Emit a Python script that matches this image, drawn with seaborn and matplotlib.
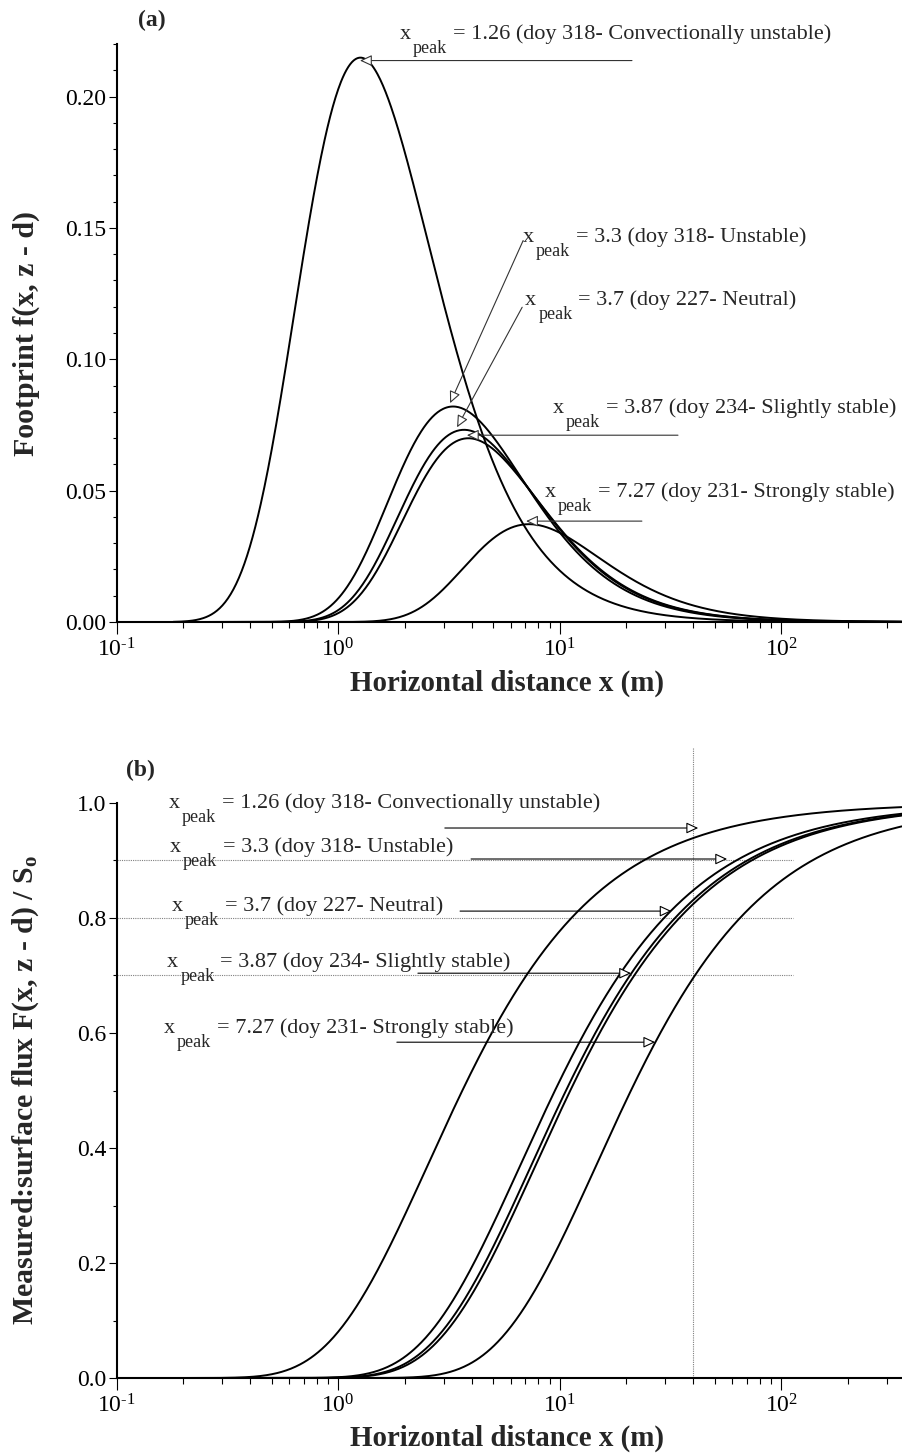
import numpy as np
import pandas as pd
import matplotlib
matplotlib.use("Agg")
import matplotlib.pyplot as plt
import matplotlib.ticker as mticker
from matplotlib.transforms import offset_copy
import seaborn as sns

x_peak = [1.26, 3.3, 3.7, 3.87, 7.27]
doy = [318, 318, 227, 234, 231]
stability = ["Convectionally unstable", "Unstable", "Neutral",
             "Slightly stable", "Strongly stable"]
x_ticks = [0.1, 1, 10, 100]
ytop_ticks = [0.00, 0.05, 0.10, 0.15, 0.20]
ybot_ticks = [0.0, 0.2, 0.4, 0.6, 0.8, 1.0]
ref_levels = [0.9, 0.8, 0.7]
ref_distance = 40

# analytic footprint model (Schuepp-type): f = 2 xp / x^2 exp(-2 xp / x),
# cumulative F = exp(-2 xp / x), defined by the labelled peak locations
x_grid = np.logspace(np.log10(0.18), np.log10(350), 800)
rows = []
for xp, d, s in zip(x_peak, doy, stability):
    f = 2 * xp / x_grid**2 * np.exp(-2 * xp / x_grid)
    F = np.exp(-2 * xp / x_grid)
    rows.append(pd.DataFrame({"x": x_grid, "f": f, "F": F, "case": f"{xp}"}))
df = pd.concat(rows, ignore_index=True)

# ---------------- style ----------------
sns.set_theme(style="ticks")
plt.rcParams["font.family"] = ["Liberation Serif", "DejaVu Serif"]
plt.rcParams["mathtext.fontset"] = "custom"
plt.rcParams["mathtext.rm"] = "Liberation Serif"
plt.rcParams["mathtext.it"] = "Liberation Serif:italic"
plt.rcParams["mathtext.bf"] = "Liberation Serif:bold"
plt.rcParams["mathtext.default"] = "regular"
plt.rcParams["axes.unicode_minus"] = False

fig = plt.figure(figsize=(9.03, 14.56), dpi=100)
ax1 = fig.add_axes([0.12924, 0.57280, 0.86932, 0.39698])
ax2 = fig.add_axes([0.12924, 0.05357, 0.86932, 0.39492])

pal = {f"{xp}": "black" for xp in x_peak}
sns.lineplot(data=df, x="x", y="f", hue="case", palette=pal, legend=False,
             estimator=None, lw=1.4, ax=ax1)
sns.lineplot(data=df, x="x", y="F", hue="case", palette=pal, legend=False,
             estimator=None, lw=1.4, ax=ax2)


def log_label(v, pos):
    e = int(round(np.log10(v)))
    return r"$10^{\text{%d}}$" % e


for ax in (ax1, ax2):
    ax.set_xscale("log")
    ax.set_xlim(0.1, 350)
    ax.xaxis.set_major_locator(mticker.FixedLocator(x_ticks))
    ax.xaxis.set_major_formatter(mticker.FuncFormatter(log_label))
    ax.xaxis.set_minor_locator(mticker.LogLocator(base=10, subs=np.arange(2, 10)))
    ax.xaxis.set_minor_formatter(mticker.NullFormatter())
    for side in ("top", "right"):
        ax.spines[side].set_visible(False)
    for side in ("left", "bottom"):
        ax.spines[side].set_linewidth(1.5)
        ax.spines[side].set_color("black")
    ax.tick_params(axis="x", which="major", length=8.6, width=0.8, pad=3,
                   labelsize=17, colors="black", direction="out")
    ax.tick_params(axis="x", which="minor", length=4.3, width=0.8,
                   colors="black", direction="out")
    ax.tick_params(axis="y", which="major", length=5.8, width=0.8, pad=1.5,
                   labelsize=17, colors="black", direction="out")
    ax.tick_params(axis="y", which="minor", length=2.9, width=0.8,
                   colors="black", direction="out")
    ax.set_xlabel("Horizontal distance x (m)", fontsize=20.8, fontweight="bold")
    ax.xaxis.set_label_coords(0.497, -0.1055)
    ax.xaxis.label.set_va("center")
    ax.grid(False)
    ax.set_facecolor("white")

ax1.set_ylim(0, 0.22)
ax1.yaxis.set_major_locator(mticker.FixedLocator(ytop_ticks))
ax1.yaxis.set_major_formatter(mticker.FormatStrFormatter("%.2f"))
ax1.yaxis.set_minor_locator(mticker.MultipleLocator(0.01))
ax1.set_ylabel("Footprint f(x, z - d)", fontsize=21.5, fontweight="bold")
ax1.yaxis.set_label_coords(-0.1155, 0.5)
ax1.yaxis.label.set_va("center")

ax2.set_ylim(0, 1.0)
ax2.yaxis.set_major_locator(mticker.FixedLocator(ybot_ticks))
ax2.yaxis.set_major_formatter(mticker.FormatStrFormatter("%.1f"))
ax2.yaxis.set_minor_locator(mticker.MultipleLocator(0.1))
ax2.set_ylabel("Measured:surface flux F(x, z - d) / S$_\\mathbf{o}$",
               fontsize=21.5, fontweight="bold")
ax2.yaxis.set_label_coords(-0.1155, 0.5)
ax2.yaxis.label.set_va("center")

# reference lines in panel (b)
ax2.hlines(ref_levels, 0.1, 113, colors="#808080", linestyles=(0, (1, 1)),
           lw=0.8, zorder=1)
ax2.vlines(ref_distance, 0, 1.096, colors="#808080", linestyles=(0, (1, 1)),
           lw=0.8, clip_on=False, zorder=1)

# ---------------- annotations ----------------
def label(ax, x, y, txt):
    ax.text(x, y, "x", fontsize=16, ha="left", va="baseline",
            transform=ax.transData, clip_on=False)
    ax.text(x, y, "peak", fontsize=13, ha="left", va="baseline",
            transform=offset_copy(ax.transData, fig=fig, x=13, y=-14, units="dots"),
            clip_on=False)
    ax.text(x, y, txt, fontsize=16, ha="left", va="baseline",
            transform=offset_copy(ax.transData, fig=fig, x=53, y=0, units="dots"),
            clip_on=False)

def arrow(ax, start, tip, color):
    ax.annotate("", xy=tip, xytext=start, xycoords="data", textcoords="data",
                arrowprops=dict(arrowstyle="-|>,head_length=0.6,head_width=0.28",
                                mutation_scale=12, fc="white", ec=color,
                                lw=0.8, shrinkA=0, shrinkB=0),
                annotation_clip=False)

texts = [f"= {xp} (doy {d}- {s})" for xp, d, s in zip(x_peak, doy, stability)]

top_text_pos = [(1.90, 0.2219), (6.84, 0.1445), (6.99, 0.1205),
                (9.31, 0.0795), (8.58, 0.0475)]
top_arrows = [((21.2, 0.2137), (1.254, 0.2137)),
              ((6.84, 0.1452), (3.20, 0.0833)),
              ((6.77, 0.1198), (3.44, 0.0741)),
              ((34.2, 0.0711), (3.81, 0.0711)),
              ((23.5, 0.0384), (7.05, 0.0384))]
bot_text_pos = [(0.172, 0.991), (0.1742, 0.915), (0.178, 0.812),
                (0.169, 0.715), (0.163, 0.600)]
bot_arrows = [((3.03, 0.9565), (42.2, 0.9565)),
              ((3.98, 0.9026), (57.0, 0.9026)),
              ((3.55, 0.812), (32.0, 0.812)),
              ((2.29, 0.704), (21.0, 0.704)),
              ((1.84, 0.584), (27.0, 0.584))]

for (tx, ty), (s, t), txt in zip(top_text_pos, top_arrows, texts):
    label(ax1, tx, ty, txt)
    arrow(ax1, s, t, "#333333")
for (tx, ty), (s, t), txt in zip(bot_text_pos, bot_arrows, texts):
    label(ax2, tx, ty, txt)
    arrow(ax2, s, t, "black")

fig.text(138 / 903, 1 - 20 / 1456, "(a)", fontsize=17, fontweight="bold",
         ha="left", va="center")
fig.text(126 / 903, 1 - 770 / 1456, "(b)", fontsize=17, fontweight="bold",
         ha="left", va="center")

fig.savefig("out.png", dpi=100, facecolor="white")
